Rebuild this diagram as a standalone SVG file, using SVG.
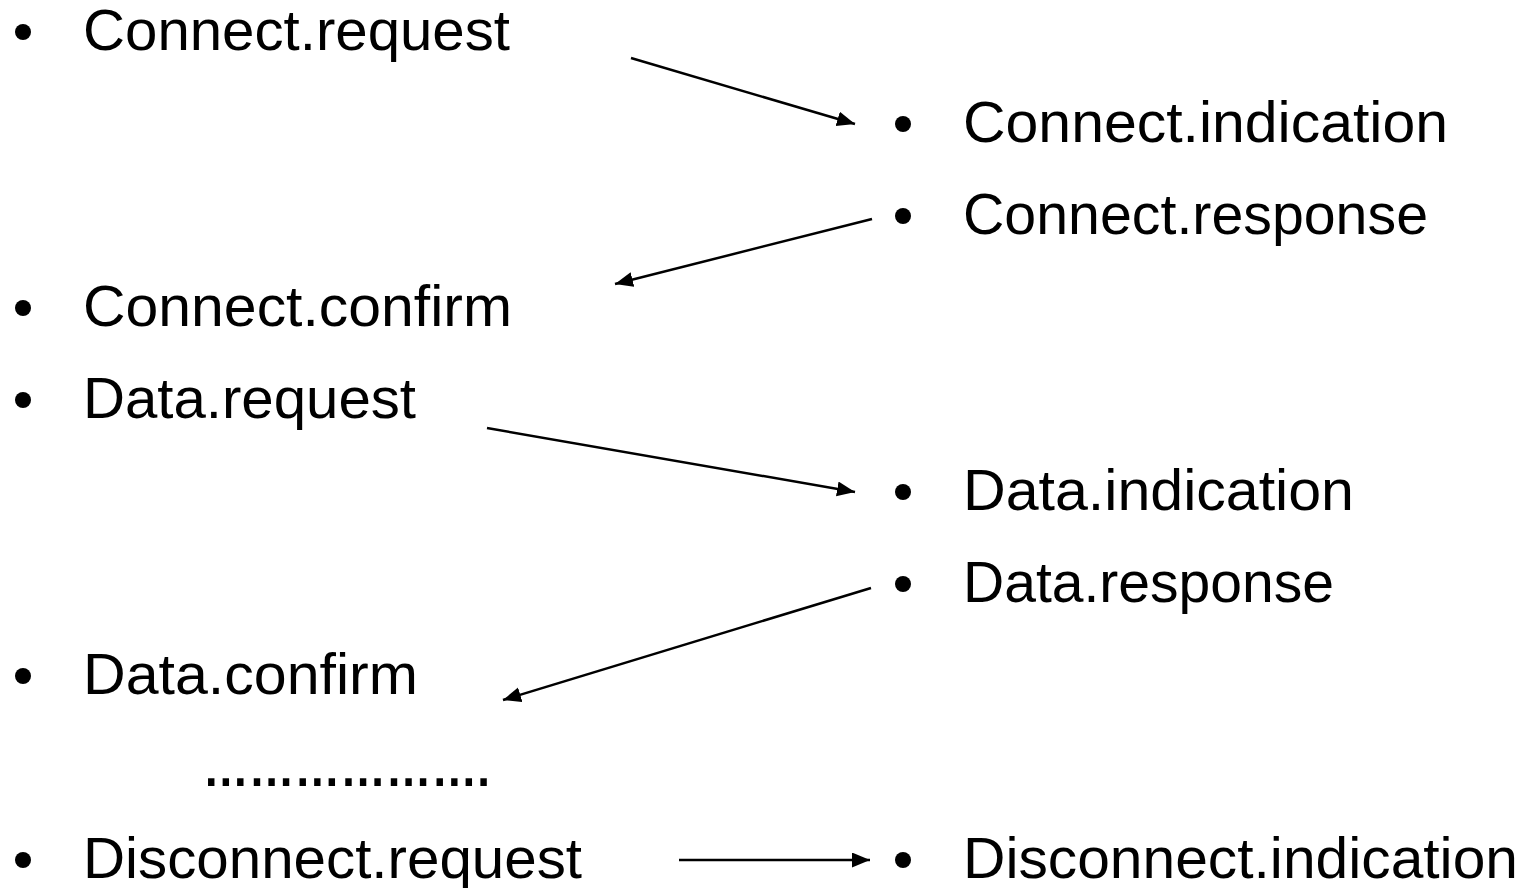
<svg xmlns="http://www.w3.org/2000/svg" width="1527" height="888" viewBox="0 0 1527 888">
<style>
text{font-family:"Liberation Sans",Arial,sans-serif;font-size:58px;fill:#000}
.dots{font-weight:bold;font-size:52px}
.bul{fill:#000}
.conn{stroke:#000;stroke-width:2.5;fill:none;marker-end:url(#ah)}
</style>
<defs>
<marker id="ah" markerUnits="userSpaceOnUse" markerWidth="19" markerHeight="16" refX="18" refY="7.5" orient="auto">
<path d="M0,0 L18,7.5 L0,15 z" fill="#000"/>
</marker>
</defs>
<rect width="1527" height="888" fill="#fff"/>
<g id="connectors">
<line class="conn" x1="631" y1="58" x2="855" y2="124"/>
<line class="conn" x1="872" y1="219" x2="615" y2="284"/>
<line class="conn" x1="487" y1="428" x2="855" y2="492"/>
<line class="conn" x1="871" y1="588" x2="503" y2="700"/>
<line class="conn" x1="679" y1="860" x2="870" y2="860"/>
</g>
<g id="connect-request"><circle class="bul" cx="23" cy="32" r="8"/><text x="83" y="50" textLength="427" lengthAdjust="spacingAndGlyphs">Connect.request</text></g>
<g id="connect-indication"><circle class="bul" cx="903" cy="124" r="8"/><text x="963" y="142" textLength="485" lengthAdjust="spacingAndGlyphs">Connect.indication</text></g>
<g id="connect-response"><circle class="bul" cx="903" cy="216" r="8"/><text x="963" y="234" textLength="465" lengthAdjust="spacingAndGlyphs">Connect.response</text></g>
<g id="connect-confirm"><circle class="bul" cx="23" cy="308" r="8"/><text x="83" y="326" textLength="429" lengthAdjust="spacingAndGlyphs">Connect.confirm</text></g>
<g id="data-request"><circle class="bul" cx="23" cy="400" r="8"/><text x="83" y="418" textLength="333" lengthAdjust="spacingAndGlyphs">Data.request</text></g>
<g id="data-indication"><circle class="bul" cx="903" cy="492" r="8"/><text x="963" y="510" textLength="391" lengthAdjust="spacingAndGlyphs">Data.indication</text></g>
<g id="data-response"><circle class="bul" cx="903" cy="584" r="8"/><text x="963" y="602" textLength="371" lengthAdjust="spacingAndGlyphs">Data.response</text></g>
<g id="data-confirm"><circle class="bul" cx="23" cy="676" r="8"/><text x="83" y="694" textLength="335" lengthAdjust="spacingAndGlyphs">Data.confirm</text></g>
<g id="ellipsis"><text class="dots" x="203" y="786" textLength="287" lengthAdjust="spacingAndGlyphs">&#8230;&#8230;&#8230;&#8230;&#8230;&#8230;.</text></g>
<g id="disconnect-request"><circle class="bul" cx="23" cy="860" r="8"/><text x="83" y="878" textLength="499" lengthAdjust="spacingAndGlyphs">Disconnect.request</text></g>
<g id="disconnect-indication"><circle class="bul" cx="903" cy="860" r="8"/><text x="963" y="878" textLength="555" lengthAdjust="spacingAndGlyphs">Disconnect.indication</text></g>
</svg>
